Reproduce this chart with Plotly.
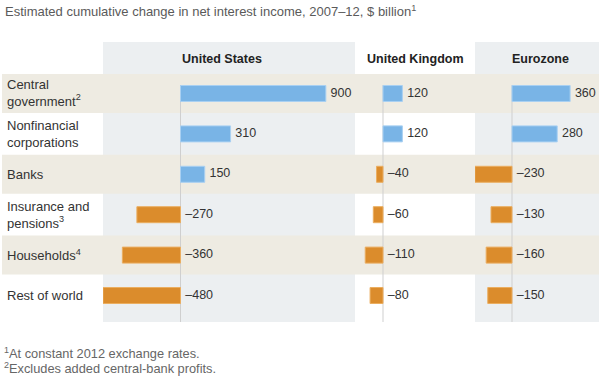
import plotly.graph_objects as go

# ---- data ----
row_keys = ["cg", "nfc", "banks", "ins", "hh", "row"]
row_labels = ["Central<br>government<sup>2</sup>", "Nonfinancial<br>corporations", "Banks",
              "Insurance and<br>pensions<sup>3</sup>", "Households<sup>4</sup>", "Rest of world"]
regions = ["United States", "United Kingdom", "Eurozone"]
us_values = [900, 310, 150, -270, -360, -480]
uk_values = [120, 120, -40, -60, -110, -80]
ez_values = [360, 280, -230, -130, -160, -150]
title_text = "Estimated cumulative change in net interest income, 2007–12, $ billion<sup>1</sup>"
footnotes = ["<sup>1</sup>At constant 2012 exchange rates.",
             "<sup>2</sup>Excludes added central-bank profits."]

W, H = 600, 378
FONT = "Helvetica Neue, Liberation Sans, Arial, sans-serif"
BLUE = "#79B4E6"
BLUE_EDGE = "#A9D0F2"
ORANGE = "#DB8C2C"
ORANGE_EDGE = "#EBAE60"
BEIGE = "#EEEBE2"
COLBG = "#ECEFF1"
SCALE = 0.1615  # px per $ billion


def px(x):
    return x / W


def py(y):
    return 1 - y / H


# column layout in pixels: (left, right, zero position, header center)
columns = [(103, 355, 180.5, 222), (355, 475, 383, 415), (475, 599, 512, 540)]
series = [us_values, uk_values, ez_values]


def fmt(v):
    return ("–" + str(abs(v))) if v < 0 else str(v)


fig = go.Figure()
shapes = []
annotations = []

# column backgrounds (US and Eurozone)
for idx in (0, 2):
    l, r, z, c = columns[idx]
    shapes.append(dict(type="rect", xref="paper", yref="paper", x0=px(l), x1=px(r),
                       y0=py(322), y1=py(42), fillcolor=COLBG, line=dict(width=0), layer="below"))
# alternate row bands
for i in range(0, len(row_keys), 2):
    shapes.append(dict(type="rect", xref="paper", yref="y", x0=px(2), x1=px(599),
                       y0=i - 0.483, y1=i + 0.483, fillcolor=BEIGE, line=dict(width=0), layer="below"))

for k, (vals, (l, r, z, c)) in enumerate(zip(series, columns)):
    axname = "x" if k == 0 else f"x{k+1}"
    layname = "xaxis" if k == 0 else f"xaxis{k+1}"
    rng = [(l - z) / SCALE, (r - z) / SCALE]
    fig.update_layout(**{layname: dict(domain=[px(l), px(r)], range=rng, visible=False,
                                       showgrid=False, zeroline=False, anchor="y", fixedrange=True)})
    fig.add_trace(go.Bar(
        x=vals, y=row_keys, orientation="h", xaxis=axname, yaxis="y",
        width=0.396,
        marker=dict(color=[BLUE if v > 0 else ORANGE for v in vals],
                    line=dict(color=[BLUE_EDGE if v > 0 else ORANGE_EDGE for v in vals], width=1)),
        hoverinfo="skip", showlegend=False))
    fig.add_trace(go.Scatter(
        x=[max(v, 0) for v in vals], y=row_keys, xaxis=axname, yaxis="y",
        mode="markers+text", marker=dict(size=6, opacity=0),
        text=[fmt(v) for v in vals], textposition="middle right",
        textfont=dict(family=FONT, size=12.5, color="#333333"),
        hoverinfo="skip", showlegend=False))
    # zero line
    shapes.append(dict(type="line", xref=axname, yref="paper", x0=0, x1=0,
                       y0=py(322), y1=py(85), line=dict(color="#CFCFCF", width=1), layer="below"))
    annotations.append(dict(text="<b>" + regions[k] + "</b>", xref="paper", yref="paper",
                            x=px(c), y=py(59), xanchor="center", yanchor="middle", showarrow=False,
                            font=dict(family=FONT, size=12.5, color="#222222")))

for key, lab in zip(row_keys, row_labels):
    annotations.append(dict(text=lab, xref="paper", yref="y", x=px(5), y=key,
                            xanchor="left", yanchor="middle", align="left", showarrow=False,
                            font=dict(family=FONT, size=13, color="#333333")))

annotations.append(dict(text=title_text, xref="paper", yref="paper", x=px(3), y=py(11),
                        xanchor="left", yanchor="middle", showarrow=False,
                        font=dict(family=FONT, size=13, color="#5a5a5a")))
for j, fn in enumerate(footnotes):
    annotations.append(dict(text=fn, xref="paper", yref="paper", x=px(2), y=py(353 + 15 * j),
                            xanchor="left", yanchor="middle", showarrow=False,
                            font=dict(family=FONT, size=12.8, color="#666666")))

fig.update_layout(
    width=W, height=H,
    margin=dict(l=0, r=0, t=0, b=0),
    paper_bgcolor="white", plot_bgcolor="rgba(0,0,0,0)",
    yaxis=dict(type="category", categoryarray=row_keys, categoryorder="array",
               range=[7.042, -2.314], domain=[0, 1], visible=False, fixedrange=True),
    barmode="overlay",
    shapes=shapes, annotations=annotations,
    font=dict(family=FONT),
)

fig.write_html("out.html", config={"displayModeBar": False},
               post_script="document.body.style.margin='0';")
